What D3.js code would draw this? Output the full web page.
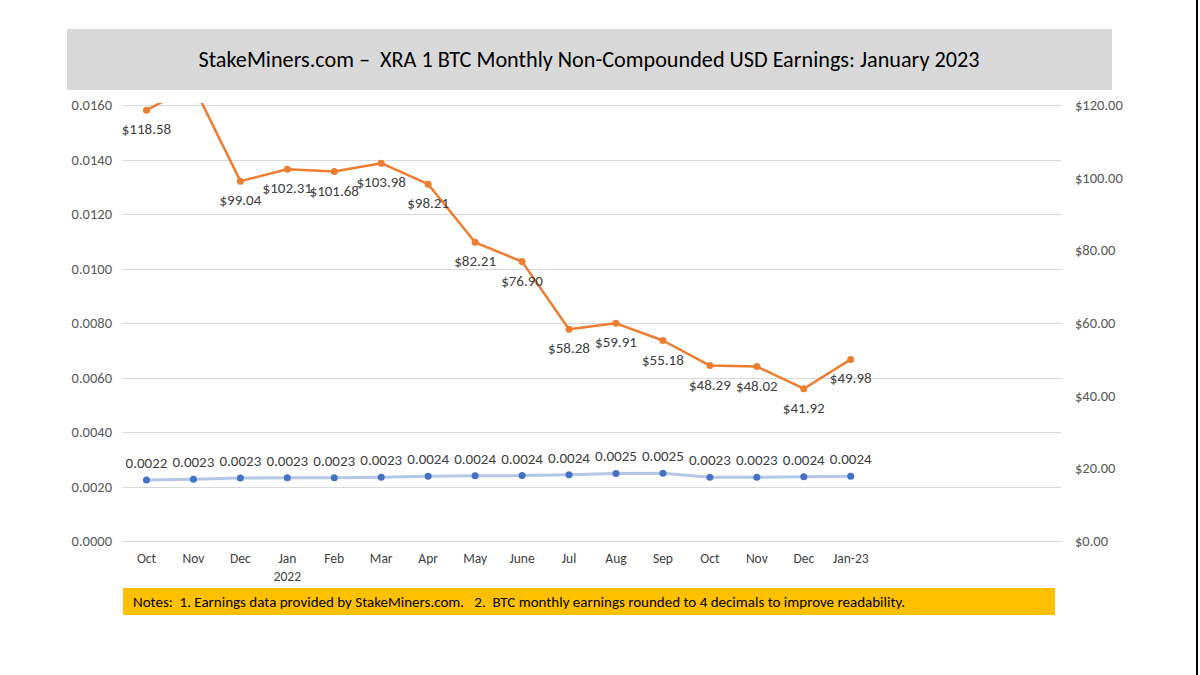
<!DOCTYPE html>
<html>
<head>
<meta charset="utf-8">
<script src="https://cdn.jsdelivr.net/npm/d3@7/dist/d3.min.js"></script>
<style>
  body { margin: 0; background: #fff; }
  svg { display: block; }
  text { font-family: Carlito, Calibri, Lato, "Open Sans", sans-serif; white-space: pre; }
</style>
</head>
<body>
<svg id="chart" width="1200" height="675"></svg>
<script>
const categories = ["Oct","Nov","Dec","Jan","Feb","Mar","Apr","May","June","Jul","Aug","Sep","Oct","Nov","Dec","Jan-23"];
const yearLabels = ["","","","2022","","","","","","","","","","","",""];
const usdEarnings = [118.58,125.30,99.04,102.31,101.68,103.98,98.21,82.21,76.90,58.28,59.91,55.18,48.29,48.02,41.92,49.98];
const btcEarnings = [0.00224,0.00227,0.00231,0.00232,0.00232,0.00234,0.00238,0.00239,0.00240,0.00243,0.00248,0.00249,0.00234,0.00234,0.00236,0.00238];
const leftTicks = [0,0.002,0.004,0.006,0.008,0.010,0.012,0.014,0.016];
const rightTicks = [0,20,40,60,80,100,120];
const slotCount = 20;
const titleText = "StakeMiners.com \u2013  XRA 1 BTC Monthly Non-Compounded USD Earnings: January 2023";
const notesText = "Notes:  1. Earnings data provided by StakeMiners.com.   2.  BTC monthly earnings rounded to 4 decimals to improve readability.";

const svg = d3.select("#chart");
const plot = {left: 123, right: 1062, top: 105, bottom: 541};
const FONT = "Carlito, Calibri, Lato, sans-serif";

// right border
svg.append("line").attr("x1",1197).attr("x2",1197).attr("y1",0).attr("y2",675)
  .attr("stroke","#000").attr("stroke-width",2);

// title box
svg.append("rect").attr("x",67).attr("y",29).attr("width",1045).attr("height",61).attr("fill","#d9d9d9");
svg.append("text").attr("x",589).attr("y",67).attr("text-anchor","middle")
  .attr("font-size",22.2).attr("fill","#000").text(titleText);

const x = d3.scaleBand().domain(d3.range(slotCount)).range([plot.left, plot.right]);
const cx = i => x(i) + x.bandwidth()/2;
const yL = d3.scaleLinear().domain([0,0.016]).range([plot.bottom, plot.top]);
const yR = d3.scaleLinear().domain([0,120]).range([plot.bottom, plot.top]);

// gridlines
svg.append("g").selectAll("line").data(leftTicks).join("line")
  .attr("x1",plot.left).attr("x2",plot.right)
  .attr("y1",d=>Math.round(yL(d))+0.5).attr("y2",d=>Math.round(yL(d))+0.5)
  .attr("stroke","#d9d9d9").attr("stroke-width",1);

// left axis
const leftAxis = d3.axisLeft(yL).tickValues(leftTicks).tickFormat(d3.format(".4f")).tickSize(0).tickPadding(11);
const gl = svg.append("g").attr("transform",`translate(${plot.left},0)`).call(leftAxis);
gl.select(".domain").remove();
gl.selectAll("text").attr("font-size",14.5).attr("fill","#595959").style("font-family",FONT);

// right axis
const rightAxis = d3.axisRight(yR).tickValues(rightTicks).tickFormat(d=>"$"+d3.format(".2f")(d)).tickSize(0).tickPadding(13);
const gr = svg.append("g").attr("transform",`translate(${plot.right},0)`).call(rightAxis);
gr.select(".domain").remove();
gr.selectAll("text").attr("font-size",14.5).attr("fill","#595959").style("font-family",FONT);

// x axis labels
const xAxis = d3.axisBottom(x).tickValues(d3.range(categories.length)).tickFormat(i=>categories[i]).tickSize(0).tickPadding(12);
const gx = svg.append("g").attr("transform",`translate(0,${plot.bottom})`).call(xAxis);
gx.select(".domain").remove();
gx.selectAll("text").attr("font-size",13.5).attr("fill","#404040").style("font-family",FONT);
svg.append("g").selectAll("text").data(yearLabels).join("text")
  .attr("x",(d,i)=>cx(i)).attr("y",581).attr("text-anchor","middle")
  .attr("font-size",13.5).attr("fill","#404040").text(d=>d);

// clip
svg.append("clipPath").attr("id","plotclip").append("rect")
  .attr("x",plot.left-20).attr("y",plot.top-2).attr("width",plot.right-plot.left+40).attr("height",plot.bottom-plot.top+10);

// BTC line
const lineL = d3.line().x((d,i)=>cx(i)).y(d=>yL(d));
svg.append("path").datum(btcEarnings).attr("d",lineL)
  .attr("fill","none").attr("stroke","#b4c7e7").attr("stroke-width",3).attr("stroke-linejoin","round");
svg.append("g").selectAll("circle").data(btcEarnings).join("circle")
  .attr("cx",(d,i)=>cx(i)).attr("cy",d=>yL(d)).attr("r",3.5).attr("fill","#4472c4");
svg.append("g").selectAll("text").data(btcEarnings).join("text")
  .attr("x",(d,i)=>cx(i)).attr("y",d=>yL(d)-12).attr("text-anchor","middle")
  .attr("font-size",15).attr("fill","#404040").text(d=>d3.format(".4f")(d));

// USD line
const lineR = d3.line().x((d,i)=>cx(i)).y(d=>yR(d));
const gUsd = svg.append("g").attr("clip-path","url(#plotclip)");
gUsd.append("path").datum(usdEarnings).attr("d",lineR)
  .attr("fill","none").attr("stroke","#ed7d31").attr("stroke-width",2.5).attr("stroke-linejoin","round");
gUsd.selectAll("circle").data(usdEarnings).join("circle")
  .attr("cx",(d,i)=>cx(i)).attr("cy",d=>yR(d)).attr("r",3.5).attr("fill","#ed7d31");
svg.append("g").selectAll("text").data(usdEarnings.map((v,i)=>({v,i})).filter(d=>d.v<=120)).join("text")
  .attr("x",d=>cx(d.i)).attr("y",d=>yR(d.v)+24).attr("text-anchor","middle")
  .attr("font-size",15).attr("fill","#404040").text(d=>"$"+d3.format(".2f")(d.v));

// notes
svg.append("rect").attr("x",123).attr("y",588).attr("width",932).attr("height",27).attr("fill","#ffc000");
svg.append("text").attr("x",133).attr("y",607).attr("font-size",15).attr("fill","#000").text(notesText);
</script>
</body>
</html>
